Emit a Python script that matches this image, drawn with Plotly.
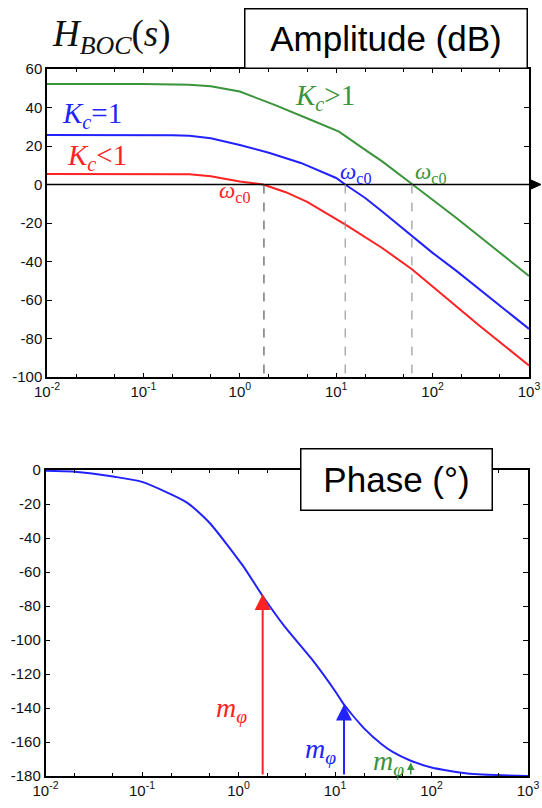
import numpy as np
import plotly.graph_objects as go

# ---------------- data ----------------
w_green = [0.01, 0.1, 0.3, 0.5, 1.0, 2.4, 5.5, 10.7, 20, 30, 62, 100, 178, 1000]
amp_green = [52.2, 52.2, 51.8, 51.0, 48.3, 41.0, 33.5, 27.5, 18.0, 12.0, 0.0, -8.0, -17.5, -47.5]

w_blue = [0.01, 0.1, 0.2, 0.3, 0.5, 1.0, 2.0, 4.3, 10, 12.4, 20, 30, 61, 100, 178, 1000]
amp_blue = [25.7, 25.7, 25.6, 25.3, 24.0, 20.5, 16.5, 11.2, 3.4, 0.0, -7.0, -14.0, -26.5, -35.5, -45.0, -75.0]

w_red = [0.01, 0.1, 0.3, 0.5, 1.0, 1.75, 3, 5, 12.6, 30, 61, 100, 300, 1000]
amp_red = [5.5, 5.5, 5.3, 4.3, 1.6, 0.0, -4.0, -9.0, -21.0, -33.0, -44.0, -53.0, -73.0, -94.0]

w_phase = [0.01, 0.02, 0.052, 0.1, 0.29, 0.5, 1.1, 1.75, 3, 5.7, 10.3, 12.4, 20, 30, 40, 61, 100, 235, 1000]
phase = [-0.5, -1, -4, -7, -19, -31, -56, -73.5, -92, -111, -131, -138, -152, -161, -166, -171, -175, -178.5, -180]

# crossover frequencies (red, blue, green) and phase at crossover
wc0 = [1.78, 12.4, 61]
phase_wc0 = [-73, -138, -172]

xtick_vals = [0.01, 0.1, 1, 10, 100, 1000]
xtick_text = ["10<sup>-2</sup>", "10<sup>-1</sup>", "10<sup>0</sup>", "10<sup>1</sup>", "10<sup>2</sup>", "10<sup>3</sup>"]
amp_ticks = [60, 40, 20, 0, -20, -40, -60, -80, -100]
amp_tick_text = ["60", "40", "20", "0", "-20", "-40", "-60", "-80", "-100"]
phase_ticks = [0, -20, -40, -60, -80, -100, -120, -140, -160, -180]
phase_tick_text = ["0", "-20", "-40", "-60", "-80", "-100", "-120", "-140", "-160", "-180"]

# ---------------- styling ----------------
GREEN = "#3a943a"
BLUE = "#2222ff"
RED = "#ff2222"
SERIF = "Liberation Serif, Times New Roman, serif"
SANS = "Liberation Sans, Arial, sans-serif"

fig = go.Figure()
fig.add_trace(go.Scatter(x=w_green, y=amp_green, mode="lines", line=dict(color=GREEN, width=2), xaxis="x", yaxis="y"))
fig.add_trace(go.Scatter(x=w_blue, y=amp_blue, mode="lines", line=dict(color=BLUE, width=2), xaxis="x", yaxis="y"))
fig.add_trace(go.Scatter(x=w_red, y=amp_red, mode="lines", line=dict(color=RED, width=2), xaxis="x", yaxis="y"))
fig.add_trace(go.Scatter(x=w_phase, y=phase, mode="lines", line=dict(color=BLUE, width=2, shape="spline", smoothing=0.6),
                         xaxis="x2", yaxis="y2"))

axis_common = dict(
    showline=True, linecolor="black", linewidth=1.5, mirror="allticks",
    ticks="inside", tickcolor="black", ticklen=5, tickwidth=1.2,
    showgrid=False, zeroline=False, automargin=False,
    tickfont=dict(family=SANS, size=15, color="#111"),
)
xaxis_common = dict(axis_common, type="log", range=[-2, 3], tickvals=xtick_vals, ticktext=xtick_text,
                    ticklen=4,
                    minor=dict(ticks="inside", ticklen=3, tickcolor="black", tickwidth=1, showgrid=False))

W, H = 542, 808
TOP_X = [47 / W, 529 / W]
TOP_Y = [1 - 377 / H, 1 - 69 / H]
fig.update_layout(
    width=W, height=H, margin=dict(l=0, r=0, t=0, b=0, autoexpand=False),
    paper_bgcolor="white", plot_bgcolor="white", showlegend=False,
    xaxis=dict(xaxis_common, domain=TOP_X, anchor="y"),
    yaxis=dict(axis_common, range=[-100, 60], tickvals=amp_ticks, ticktext=amp_tick_text, domain=TOP_Y, anchor="x"),
    xaxis2=dict(xaxis_common, domain=[45.5 / W, 528 / W], anchor="y2"),
    yaxis2=dict(axis_common, range=[-180, 0], tickvals=phase_ticks, ticktext=phase_tick_text,
                domain=[1 - 776 / H, 1 - 470 / H], anchor="x2"),
)

# 0 dB axis line, extending past the frame with an arrowhead
y0p = TOP_Y[0] + (0 - (-100)) / 160 * (TOP_Y[1] - TOP_Y[0])
xr = TOP_X[1]
fig.add_shape(type="line", xref="paper", yref="paper", x0=TOP_X[0], x1=xr + 4 / W, y0=y0p, y1=y0p,
              line=dict(color="black", width=1.5))
fig.add_shape(type="path", xref="paper", yref="paper",
              path=f"M {xr + 1 / W} {y0p + 5 / H} L {xr + 12 / W} {y0p} L {xr + 1 / W} {y0p - 5 / H} Z",
              fillcolor="black", line=dict(color="black", width=1))

# dashed verticals at crossover
dash_cols = ["#555555", "#999999", "#999999"]
for w, c in zip(wc0, dash_cols):
    fig.add_shape(type="line", xref="x", yref="y", x0=w, x1=w, y0=0, y1=-100,
                  line=dict(color=c, width=1.2, dash="dash"))

C = dict(xanchor="center", yanchor="middle")
ann = []
ann.append(dict(C, xref="paper", yref="paper", x=111 / W, y=1 - 36 / H, showarrow=False,
                text="<i>H</i><sub><i>BOC</i></sub>(<i>s</i>)", font=dict(family=SERIF, size=37, color="#111")))
ann.append(dict(C, xref="paper", yref="paper", x=386.5 / W, y=1 - 38 / H, showarrow=False,
                text="Amplitude (dB)", font=dict(family=SANS, size=35, color="black"),
                bordercolor="black", borderwidth=1.5, bgcolor="white", width=279, height=56, borderpad=1))
ann.append(dict(C, xref="paper", yref="paper", x=396 / W, y=1 - 479 / H, showarrow=False,
                text="Phase (°)", font=dict(family=SANS, size=35, color="black"),
                bordercolor="black", borderwidth=1.5, bgcolor="white", width=188, height=58, borderpad=1))

ann.append(dict(C, xref="x", yref="y", x=0.884, y=45.5, showarrow=False,
                text="<i>K</i><sub><i>c</i></sub>&gt;1", font=dict(family=SERIF, size=29, color=GREEN)))
ann.append(dict(C, xref="x", yref="y", x=-1.53, y=36, showarrow=False,
                text="<i>K</i><sub><i>c</i></sub>=1", font=dict(family=SERIF, size=29, color=BLUE)))
ann.append(dict(C, xref="x", yref="y", x=-1.48, y=14.3, showarrow=False,
                text="<i>K</i><sub><i>c</i></sub>&lt;1", font=dict(family=SERIF, size=29, color=RED)))

wc_lab = [(-29, -8, RED), (10, 11, BLUE), (19, 11, GREEN)]
for w, (dx, dy, c) in zip(wc0, wc_lab):
    ann.append(dict(C, xref="x", yref="y", x=np.log10(w), y=0, xshift=dx, yshift=dy, showarrow=False,
                    text="<i>ω</i><sub>c0</sub>", font=dict(family=SERIF, size=23, color=c)))

# phase margin arrows
cols = [RED, BLUE, GREEN]
sizes = [(2.0, 1.6), (2.0, 1.6), (1.5, 1.0)]
for w, p, c, (aw, asz) in zip(wc0, phase_wc0, cols, sizes):
    ann.append(dict(xref="x2", yref="y2", x=np.log10(w), y=p, axref="x2", ayref="y2",
                    ax=np.log10(w), ay=-180, showarrow=True, arrowhead=2, arrowwidth=aw, arrowsize=asz,
                    arrowcolor=c, text=""))

mphi_pos = [(0.84, -141, RED), (7.0, -165, BLUE), (35.5, -172, GREEN)]
for w, p, c in mphi_pos:
    ann.append(dict(C, xref="x2", yref="y2", x=np.log10(w), y=p, showarrow=False,
                    text="<i>m</i><sub><i>φ</i></sub>", font=dict(family=SERIF, size=28, color=c)))

fig.update_layout(annotations=ann)
fig.write_html("out.html", config={"displayModeBar": False},
               post_script="document.body.style.margin='0';document.body.style.overflow='hidden';")
